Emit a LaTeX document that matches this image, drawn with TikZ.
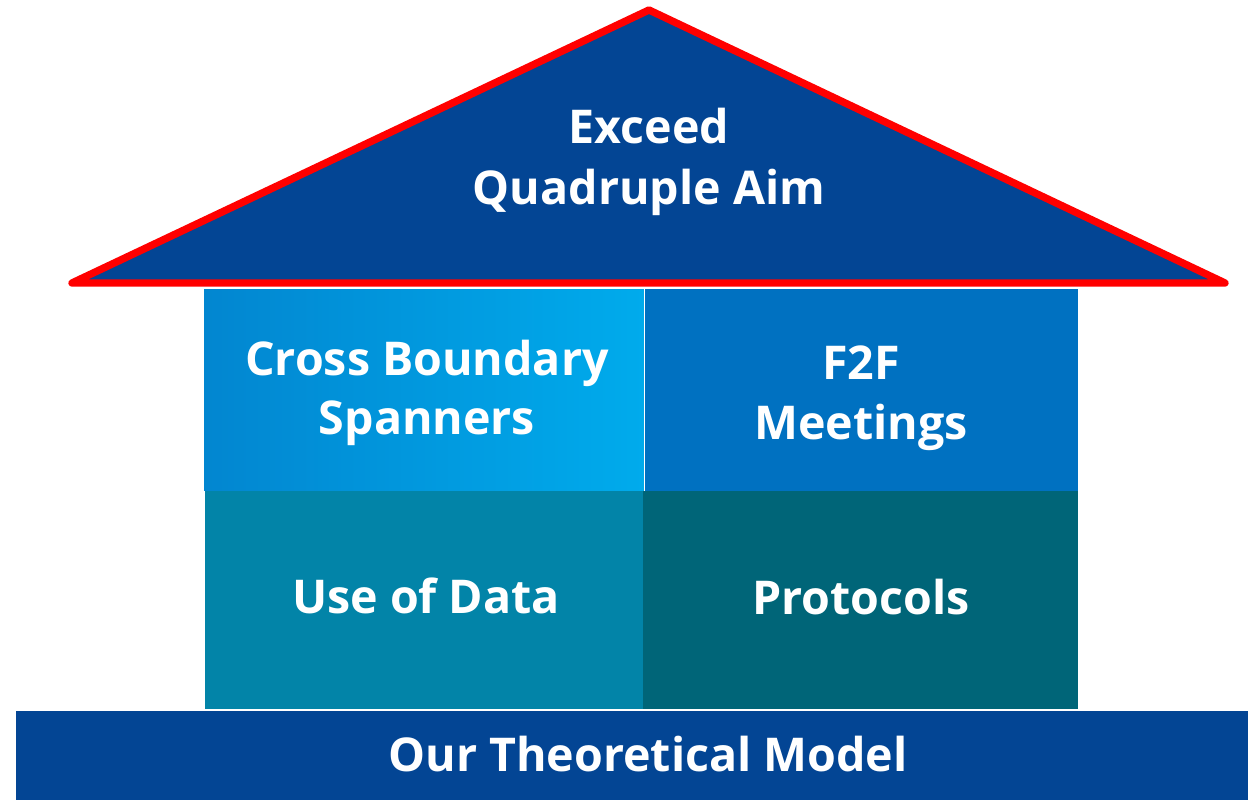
\documentclass[tikz,border=0pt]{standalone}
\usepackage{fontspec}
\setmainfont{Open Sans}
\usetikzlibrary{positioning}

\definecolor{roofblue}{RGB}{3,69,148}
\definecolor{spanleft}{RGB}{2,134,208}
\definecolor{spanright}{RGB}{0,171,236}
\definecolor{meetblue}{RGB}{0,113,193}
\definecolor{datateal}{RGB}{2,132,168}
\definecolor{prototeal}{RGB}{0,101,120}

\begin{document}
\begin{tikzpicture}[x=0.02cm,y=-0.02cm,
		block/.style={rectangle,inner sep=0pt,outer sep=0pt,align=center,text=white,font=\fontsize{26.5}{34}\selectfont\bfseries},
		caption/.style={text=white,align=center,font=\fontsize{26.5}{35}\selectfont\bfseries}]
		\useasboundingbox (0,0) rectangle (1248,800);
		% dak
		\coordinate (top) at (649,10);
		\coordinate (eaveL) at (72,283);
		\coordinate (eaveR) at (1225,283);
		\filldraw[fill=roofblue,draw=red,line width=4.2pt,line join=round,line cap=round] (top) -- (eaveR) -- (eaveL) -- cycle;
		\node[caption] (aim) at (649,162) {Exceed\\Quadruple Aim};
		% blokken
		\node[block,minimum width=8.8cm,minimum height=4.04cm,left color=spanleft,right color=spanright] (span) at (424,390) {};
		\node[block] (spantext) at (427,393) {Cross Boundary\\Spanners};
		\node[block,minimum width=8.66cm,minimum height=4.04cm,fill=meetblue] (meet) at (861.5,390) {};
		\node[block] (meettext) at (861,398) {F2F\\Meetings};
		\node[block,minimum width=8.76cm,minimum height=4.36cm,fill=datateal] (data) at (424,600) {};
		\node[block] (datatext) at (426,596) {Use of Data};
		\node[block,minimum width=8.7cm,minimum height=4.36cm,fill=prototeal] (proto) at (860.5,600) {};
		\node[block] (prototext) at (861,597) {Protocols};
		% fundament
		\node[block,minimum width=24.64cm,minimum height=1.78cm,fill=roofblue] (base) at (632,755.5) {};
		\node[caption] (model) at (648,754) {Our Theoretical Model};
\end{tikzpicture}
\end{document}
